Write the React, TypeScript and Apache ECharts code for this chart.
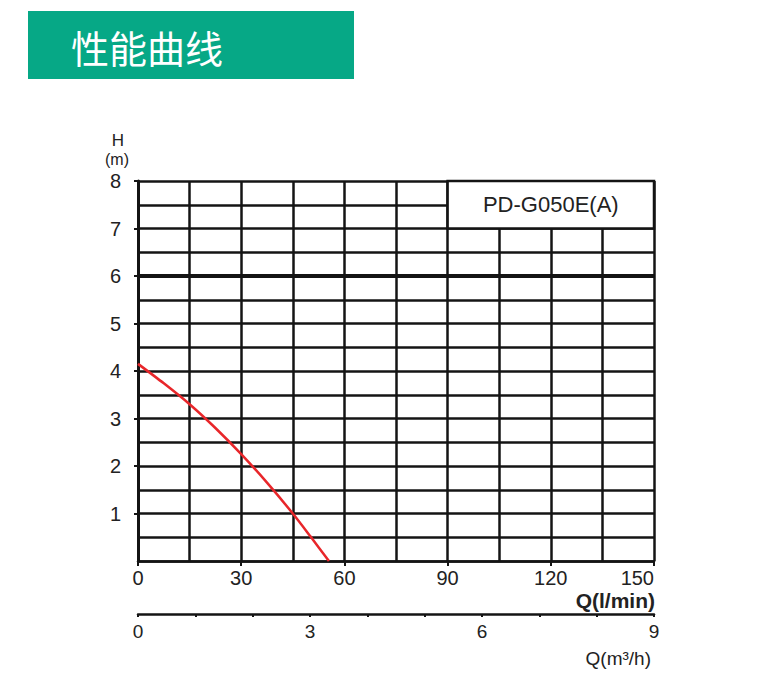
import React, { useEffect, useRef } from "react";
import * as echarts from "echarts";

// Pump performance curve: flow (l/min) vs head (m)
const flowLpm = [0, 7.5, 15, 22.5, 30, 37.5, 45, 50, 55.5];
const headM = [4.15, 3.74, 3.3, 2.8, 2.25, 1.65, 1.0, 0.53, 0];

const flowTicks = [0, 30, 60, 90, 120, 150];
const headTicks = [1, 2, 3, 4, 5, 6, 7, 8];
const cubicTicks = [0, 3, 6, 9];

const modelName = "PD-G050E(A)";
const headerTitle = "性能曲线";

const FONT = "'Liberation Sans', Arial, sans-serif";
const INK = "#141414";
const TEXT = "#222222";

export default function App() {
  const ref = useRef<HTMLDivElement>(null);

  useEffect(() => {
    if (!ref.current) return;
    const chart = echarts.init(ref.current, undefined, { renderer: "svg" });

    const points = flowLpm.map((q, i) => [q, headM[i]]);

    // axes that only draw the grid mesh
    const meshX = {
      type: "value",
      min: 0,
      max: 150,
      interval: 15,
      position: "top",
      axisLine: { show: false, onZero: false },
      axisTick: { show: false },
      axisLabel: { show: false },
      splitLine: { show: true, lineStyle: { color: INK, width: 2.5 } },
    };
    const meshY = {
      type: "value",
      min: 0,
      max: 8,
      interval: 0.5,
      position: "right",
      axisLine: { show: false, onZero: false },
      axisTick: { show: false },
      axisLabel: { show: false },
      splitLine: { show: true, lineStyle: { color: INK, width: 2.5 } },
    };

    chart.setOption({
      animation: false,
      backgroundColor: "#ffffff",
      grid: { left: 138, top: 181, width: 516, height: 380, containLabel: false },
      xAxis: [
        {
          type: "value",
          min: 0,
          max: 150,
          interval: 15,
          position: "bottom",
          axisLine: { show: true, onZero: false, lineStyle: { color: INK, width: 2.5 } },
          axisTick: {
            show: true,
            customValues: flowTicks,
            length: 5,
            lineStyle: { color: INK, width: 2 },
          },
          axisLabel: {
            customValues: flowTicks,
            margin: 7,
            color: TEXT,
            fontSize: 20,
            fontFamily: FONT,
            alignMaxLabel: "right",
          },
          splitLine: { show: false },
        },
        {
          type: "value",
          min: 0,
          max: 9,
          interval: 1,
          position: "bottom",
          offset: 53,
          axisLine: { show: true, onZero: false, lineStyle: { color: INK, width: 2.5 } },
          axisTick: { show: true, length: 3, lineStyle: { color: INK, width: 2 } },
          axisLabel: {
            customValues: cubicTicks,
            margin: 8,
            color: TEXT,
            fontSize: 19,
            fontFamily: FONT,
          },
          splitLine: { show: false },
        },
        meshX,
      ],
      yAxis: [
        {
          type: "value",
          min: 0,
          max: 8,
          interval: 0.5,
          position: "left",
          axisLine: { show: true, onZero: false, lineStyle: { color: INK, width: 3 } },
          axisTick: {
            show: true,
            customValues: headTicks,
            length: 4,
            lineStyle: { color: INK, width: 2 },
          },
          axisLabel: {
            customValues: headTicks,
            margin: 17,
            color: TEXT,
            fontSize: 20,
            fontFamily: FONT,
          },
          splitLine: { show: false },
        },
        meshY,
      ],
      series: [
        {
          type: "line",
          xAxisIndex: 0,
          yAxisIndex: 0,
          data: points,
          smooth: 0.25,
          showSymbol: false,
          lineStyle: { color: "#e8262a", width: 2.5 },
          z: 5,
          markLine: {
            silent: true,
            symbol: "none",
            label: { show: false },
            lineStyle: { color: INK, width: 4, type: "solid" },
            data: [{ yAxis: 6 }],
          },
          markArea: {
            silent: true,
            itemStyle: { color: "#ffffff", borderColor: INK, borderWidth: 2.5 },
            label: {
              show: true,
              position: "inside",
              color: TEXT,
              fontSize: 22,
              fontFamily: FONT,
            },
            data: [[{ name: modelName, coord: [90, 8] }, { coord: [150, 7] }]],
          },
        },
      ],
      graphic: [
        {
          type: "rect",
          shape: { x: 28, y: 11, width: 326, height: 68 },
          style: { fill: "#06a886" },
        },
        {
          type: "text",
          x: 71,
          y: 46,
          style: {
            text: headerTitle,
            fill: "#ffffff",
            font: "38px 'Noto Sans CJK SC', sans-serif",
            textVerticalAlign: "middle",
          },
        },
        {
          type: "text",
          x: 118,
          y: 140,
          style: {
            text: "H",
            fill: TEXT,
            font: `17px ${FONT}`,
            textAlign: "center",
            textVerticalAlign: "middle",
          },
        },
        {
          type: "text",
          x: 117,
          y: 159,
          style: {
            text: "(m)",
            fill: TEXT,
            font: `16px ${FONT}`,
            textAlign: "center",
            textVerticalAlign: "middle",
          },
        },
        {
          type: "text",
          x: 655,
          y: 600,
          style: {
            text: "Q(l/min)",
            fill: TEXT,
            font: `bold 21px ${FONT}`,
            textAlign: "right",
            textVerticalAlign: "middle",
          },
        },
        {
          type: "text",
          x: 651,
          y: 658,
          style: {
            text: "Q(m³/h)",
            fill: TEXT,
            font: `19px ${FONT}`,
            textAlign: "right",
            textVerticalAlign: "middle",
          },
        },
      ],
    });

    return () => chart.dispose();
  }, []);

  return (
    <div
      ref={ref}
      style={{ position: "absolute", left: 0, top: 0, width: 770, height: 681, background: "#fff" }}
    />
  );
}
